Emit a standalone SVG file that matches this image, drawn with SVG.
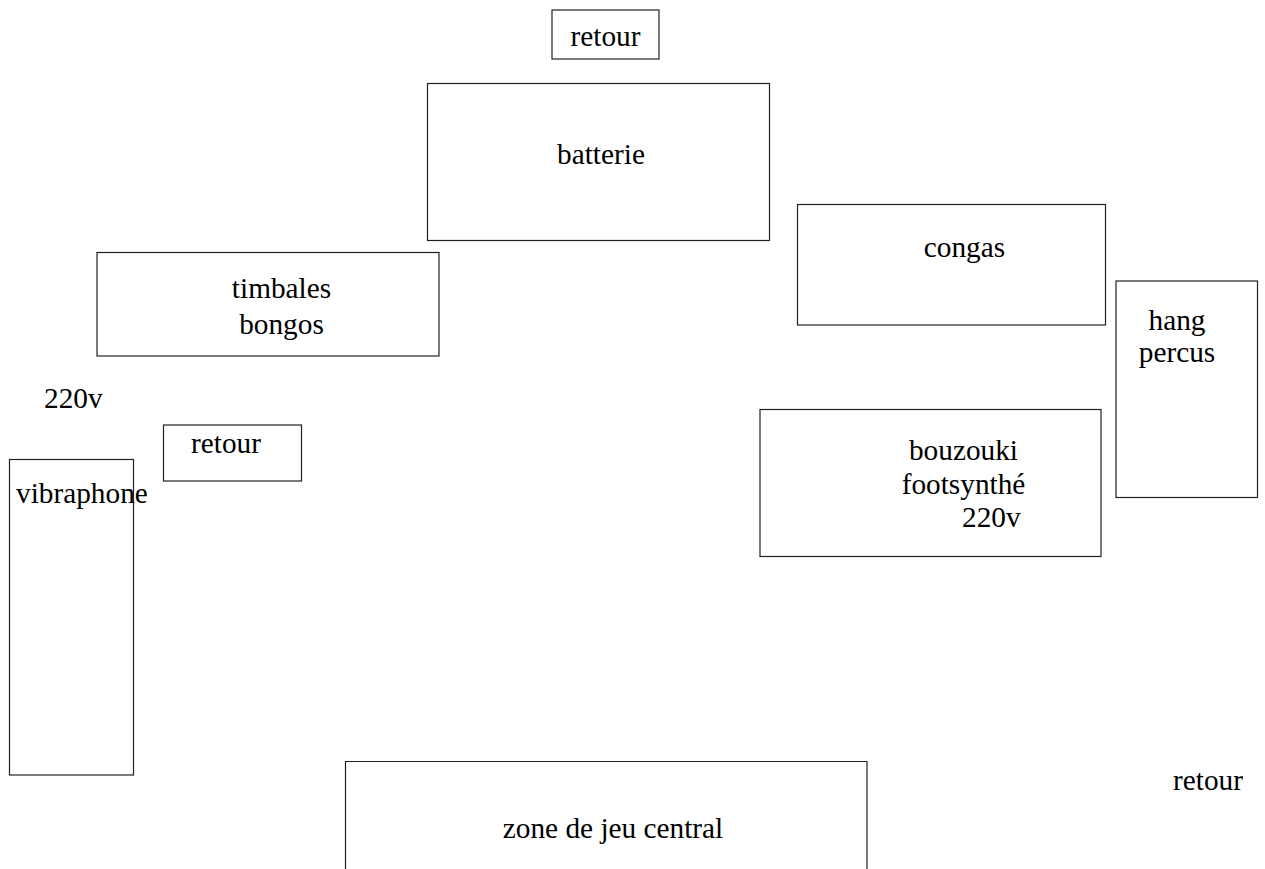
<svg xmlns="http://www.w3.org/2000/svg" width="1265" height="869" viewBox="0 0 1265 869">
<style>
rect.box{fill:none;stroke:#222;stroke-width:1.2}
text{font-family:'Liberation Serif','Times New Roman',Times,'DejaVu Serif','Noto Serif',serif;font-size:29.3px;fill:#000}
.m{text-anchor:middle}
</style>
<rect x="0" y="0" width="1265" height="869" fill="#fff"/>
<g id="retour-top"><rect class="box" x="552" y="10" width="107" height="49"/><text class="m" x="605.5" y="46">retour</text></g>
<g id="batterie"><rect class="box" x="427.5" y="83.5" width="342" height="157"/><text class="m" x="601" y="164">batterie</text></g>
<g id="congas"><rect class="box" x="797.5" y="204.5" width="308" height="120.5"/><text class="m" x="964.5" y="257">congas</text></g>
<g id="timbales"><rect class="box" x="97" y="252.5" width="342" height="103.5"/><text class="m" x="281.5" y="298">timbales</text><text class="m" x="281.5" y="334">bongos</text></g>
<g id="hang"><rect class="box" x="1116" y="281" width="141.5" height="216.5"/><text class="m" x="1177" y="330">hang</text><text class="m" x="1177" y="362">percus</text></g>
<g id="label-220v"><text x="44" y="408">220v</text></g>
<g id="retour-left"><rect class="box" x="163.5" y="425" width="138" height="56"/><text class="m" x="226" y="452.5">retour</text></g>
<g id="vibraphone"><rect class="box" x="9.5" y="459.5" width="124" height="315.5"/><text x="16" y="503">vibraphone</text></g>
<g id="bouzouki"><rect class="box" x="760" y="409.5" width="341" height="147"/><text class="m" x="963.5" y="460">bouzouki</text><text class="m" x="963.5" y="494">footsynthé</text><text x="962" y="527">220v</text></g>
<g id="zone"><path d="M345.5 869 V761.5 H867 V869" fill="none" stroke="#222" stroke-width="1.2"/><text class="m" x="613" y="838">zone de jeu central</text></g>
<g id="retour-right"><text x="1173" y="790">retour</text></g>
<g id="connectors"></g>
</svg>
